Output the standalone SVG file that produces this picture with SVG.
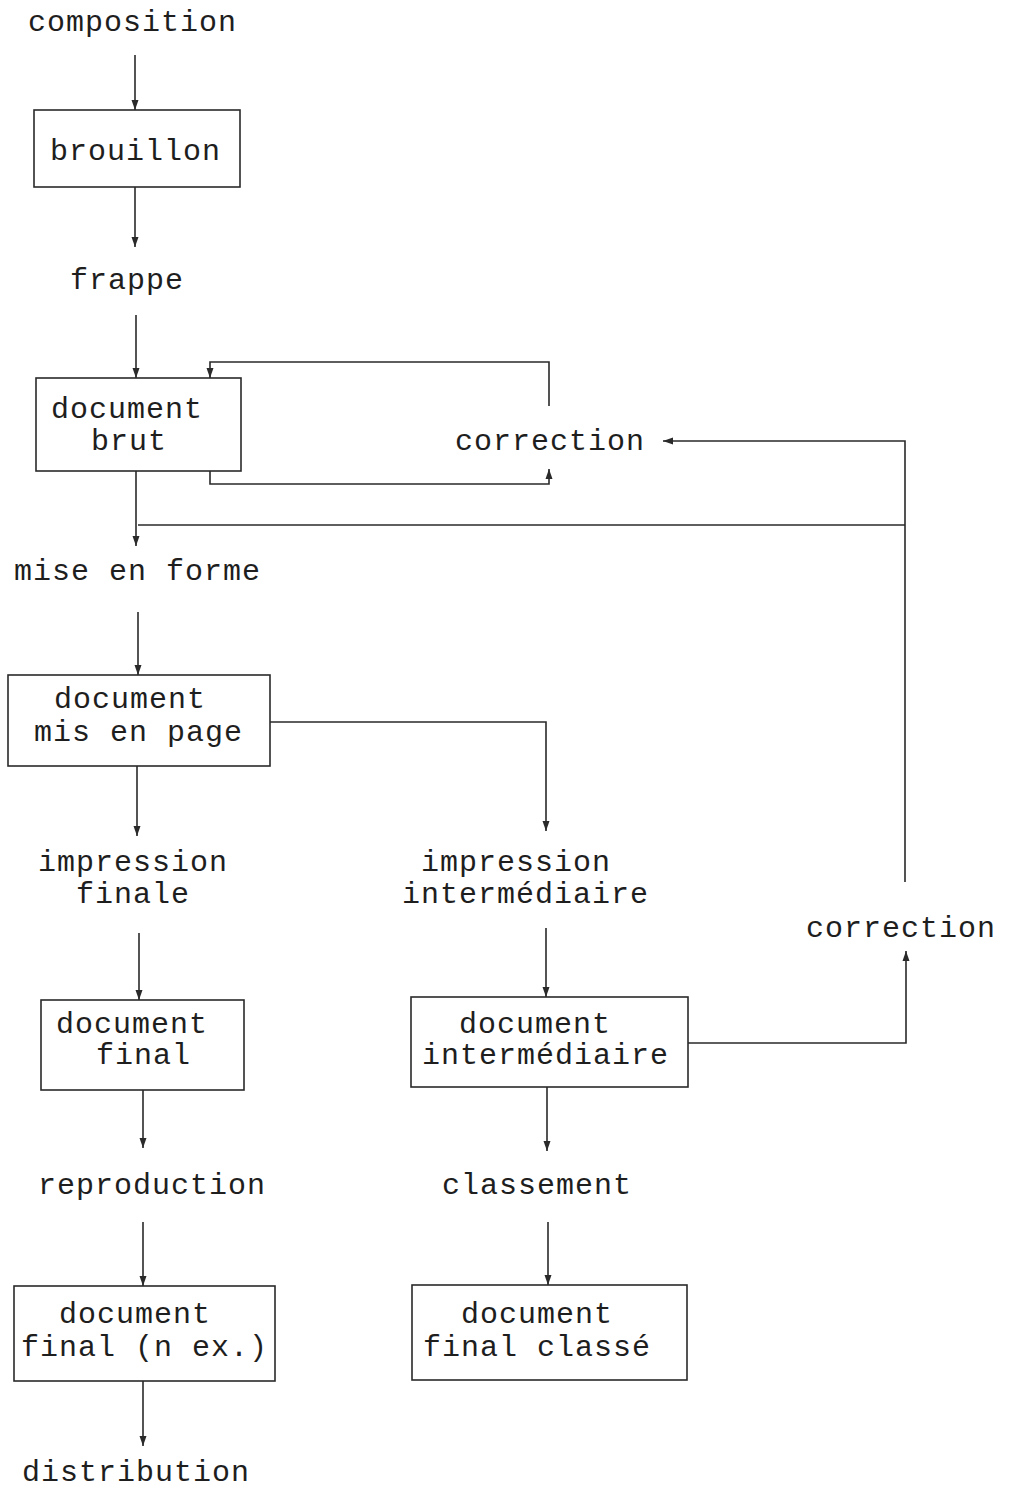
<svg xmlns="http://www.w3.org/2000/svg" width="1009" height="1490" viewBox="0 0 1009 1490">
  <style>
    text { font-family: "Liberation Mono", "Courier New", monospace; font-size: 30px; letter-spacing: 1px; fill: #1e1e1e; }
    .box { fill: none; stroke: #2a2a2a; stroke-width: 1.6; }
    .wire { fill: none; stroke: #2a2a2a; stroke-width: 1.6; }
    .arrow { marker-end: url(#head); }
  </style>
  <defs>
    <marker id="head" viewBox="0 0 10 10" refX="10" refY="5" markerWidth="10" markerHeight="10" markerUnits="userSpaceOnUse" orient="auto">
      <path d="M0,1.5 L10,5 L0,8.5 z" fill="#2a2a2a"/>
    </marker>
  </defs>

  <!-- activity labels -->
  <g id="composition"><text x="28" y="31">composition</text></g>
  <g id="frappe"><text x="70" y="289">frappe</text></g>
  <g id="correction-1"><text x="455" y="450">correction</text></g>
  <g id="mise-en-forme"><text x="14" y="580">mise en forme</text></g>
  <g id="impression-finale"><text x="38" y="871">impression</text><text x="76" y="903">finale</text></g>
  <g id="impression-intermediaire"><text x="421" y="871">impression</text><text x="402" y="903">intermédiaire</text></g>
  <g id="correction-2"><text x="806" y="937">correction</text></g>
  <g id="reproduction"><text x="38" y="1194">reproduction</text></g>
  <g id="classement"><text x="442" y="1194">classement</text></g>
  <g id="distribution"><text x="22" y="1481">distribution</text></g>

  <!-- document boxes -->
  <g id="brouillon"><rect class="box" x="34" y="110" width="206" height="77"/><text x="50" y="160">brouillon</text></g>
  <g id="document-brut"><rect class="box" x="36" y="378" width="205" height="93"/><text x="51" y="418">document</text><text x="91" y="450">brut</text></g>
  <g id="document-mis-en-page"><rect class="box" x="8" y="675" width="262" height="91"/><text x="54" y="708">document</text><text x="34" y="741">mis en page</text></g>
  <g id="document-final"><rect class="box" x="41" y="1000" width="203" height="90"/><text x="56" y="1033">document</text><text x="96" y="1064">final</text></g>
  <g id="document-intermediaire"><rect class="box" x="411" y="997" width="277" height="90"/><text x="459" y="1033">document</text><text x="422" y="1064">intermédiaire</text></g>
  <g id="document-final-n-ex"><rect class="box" x="14" y="1286" width="261" height="95"/><text x="59" y="1323">document</text><text x="21" y="1356">final (n ex.)</text></g>
  <g id="document-final-classe"><rect class="box" x="412" y="1285" width="275" height="95"/><text x="461" y="1323">document</text><text x="423" y="1356">final classé</text></g>

  <!-- connectors -->
  <g id="connectors">
    <line class="wire arrow" x1="135" y1="55" x2="135" y2="110"/>
    <line class="wire arrow" x1="135" y1="187" x2="135" y2="247"/>
    <line class="wire arrow" x1="136" y1="315" x2="136" y2="378"/>
    <!-- correction loop around the raw document -->
    <path class="wire arrow" d="M549,406 L549,362 L210,362 L210,378"/>
    <path class="wire arrow" d="M210,471 L210,484 L549,484 L549,469"/>
    <line class="wire arrow" x1="136" y1="471" x2="136" y2="546"/>
    <!-- return path from the intermediate correction -->
    <path class="wire arrow" d="M905,882 L905,441 L663,441"/>
    <line class="wire" x1="138" y1="525" x2="905" y2="525"/>
    <line class="wire arrow" x1="138" y1="612" x2="138" y2="675"/>
    <line class="wire arrow" x1="137" y1="766" x2="137" y2="836"/>
    <path class="wire arrow" d="M270,722 L546,722 L546,831"/>
    <line class="wire arrow" x1="139" y1="933" x2="139" y2="1000"/>
    <line class="wire arrow" x1="546" y1="928" x2="546" y2="997"/>
    <path class="wire arrow" d="M688,1043 L906,1043 L906,951"/>
    <line class="wire arrow" x1="143" y1="1090" x2="143" y2="1148"/>
    <line class="wire arrow" x1="547" y1="1087" x2="547" y2="1151"/>
    <line class="wire arrow" x1="143" y1="1222" x2="143" y2="1286"/>
    <line class="wire arrow" x1="548" y1="1222" x2="548" y2="1285"/>
    <line class="wire arrow" x1="143" y1="1381" x2="143" y2="1446"/>
  </g>
</svg>
